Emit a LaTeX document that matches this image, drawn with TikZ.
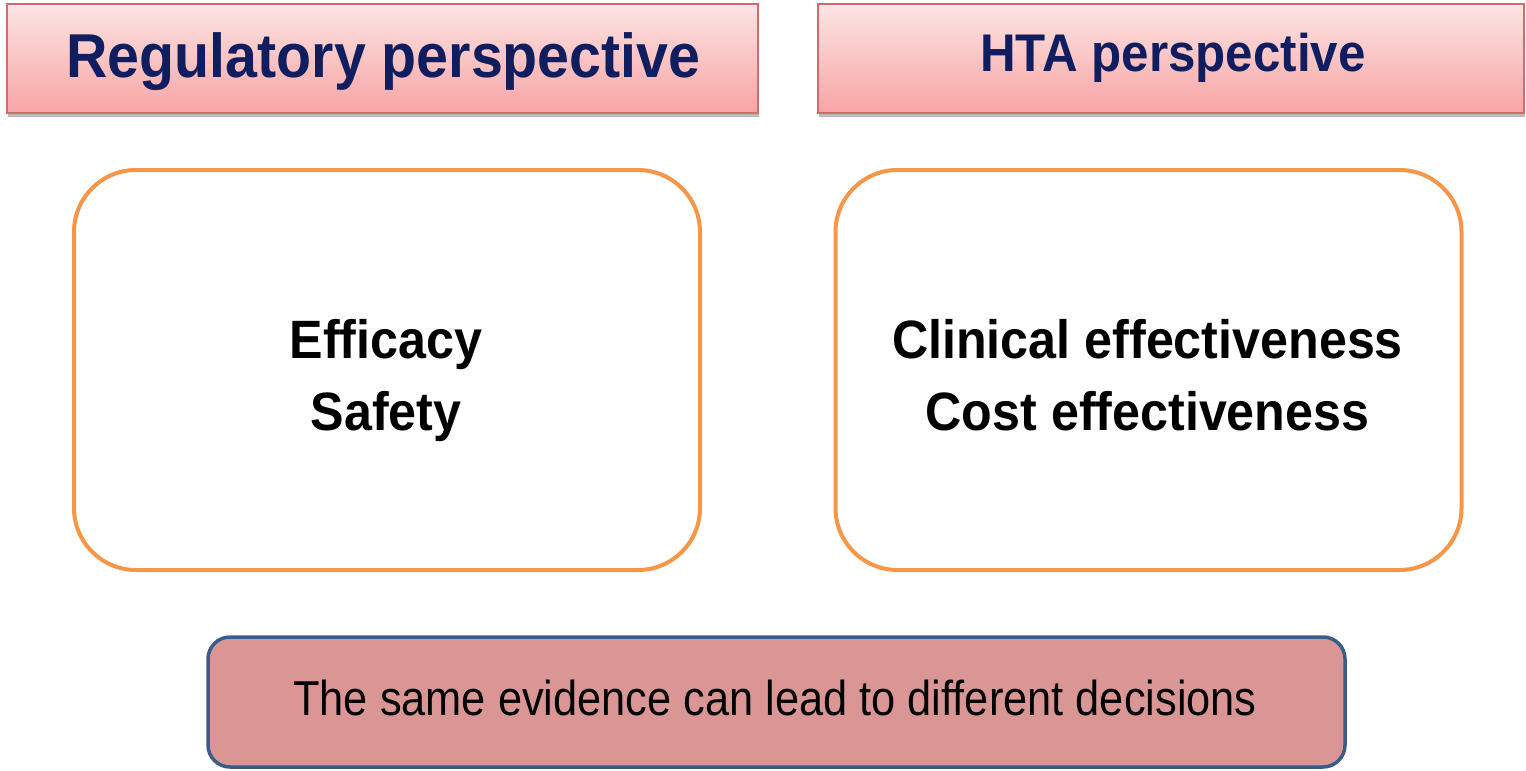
\documentclass[tikz,border=0pt]{standalone}
\usepackage{fontspec}
\setmainfont{Liberation Sans}
\usetikzlibrary{shadings,shadows}
\definecolor{navy}{RGB}{16,30,96}
\definecolor{hdrtop}{RGB}{253,228,228}
\definecolor{hdrbot}{RGB}{248,164,164}
\definecolor{hdrline}{RGB}{205,110,110}
\definecolor{orangeline}{RGB}{247,150,70}
\definecolor{notefill}{RGB}{217,150,148}
\definecolor{noteline}{RGB}{56,93,138}
\begin{document}
\begin{tikzpicture}[x=1pt,y=-1pt,
  hdrbox/.style={draw=hdrline, line width=1.2pt, top color=hdrtop, bottom color=hdrbot,
    inner sep=0pt, minimum height=109pt,
    drop shadow={shadow xshift=1pt, shadow yshift=-4pt, opacity=0.45, fill=black!60}},
  hdrtext/.style={text=navy, anchor=base, inner sep=0pt},
  pbox/.style={draw=orangeline, line width=4pt, rounded corners=62pt, fill=white,
    inner sep=0pt, minimum width=626pt, minimum height=400pt},
  ptext/.style={font=\fontsize{54}{54}\selectfont\bfseries, anchor=base, inner sep=0pt},
  notebox/.style={draw=noteline, line width=3.5pt, rounded corners=22pt, fill=notefill,
    inner sep=0pt, minimum width=1137pt, minimum height=130pt},
]
\useasboundingbox (0,0) rectangle (1526,771);

% headers
\node[hdrbox, minimum width=751pt] (reghdr) at (382.5,58.5) {};
\node[hdrbox, minimum width=706pt] (htahdr) at (1171,58.5) {};
\node[hdrtext, font=\fontsize{62}{62}\selectfont\bfseries] (regtxt) at (383.5,77)
  {\scalebox{0.925}[1]{Regulatory perspective}};
\node[hdrtext, font=\fontsize{53}{53}\selectfont\bfseries] (htatxt) at (1173,71)
  {\scalebox{0.93}[1]{HTA perspective}};

% perspective boxes
\node[pbox] (regbox) at (387,370) {};
\node[pbox] (htabox) at (1148.5,370) {};
\node[ptext] (eff) at (386,358) {\scalebox{0.93}[1]{Efficacy}};
\node[ptext] (saf) at (386,430) {\scalebox{0.93}[1]{Safety}};
\node[ptext] (clin) at (1147.5,358) {\scalebox{0.93}[1]{Clinical effectiveness}};
\node[ptext] (cost) at (1147.5,430) {\scalebox{0.93}[1]{Cost effectiveness}};

% bottom note
\node[notebox] (note) at (776.5,702) {};
\node[anchor=base, inner sep=0pt, font=\fontsize{49}{49}\selectfont] (notetxt) at (775,715)
  {\scalebox{0.885}[1]{The same evidence can lead to different decisions}};
\end{tikzpicture}
\end{document}
